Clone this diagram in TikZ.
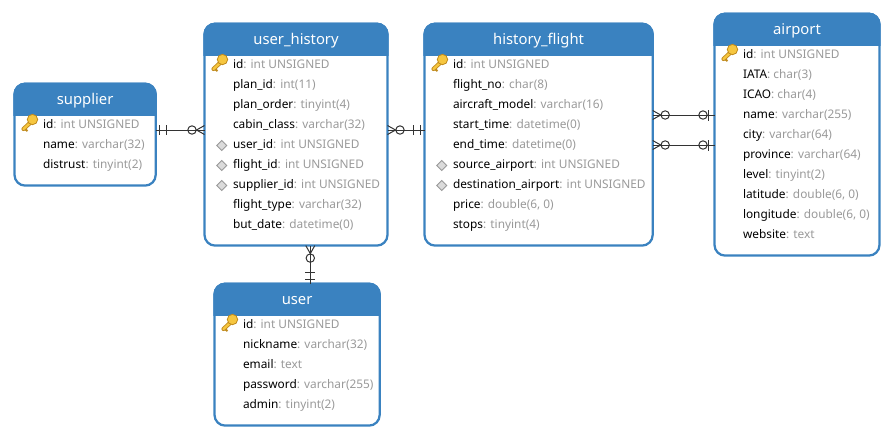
\documentclass[tikz,border=0pt]{standalone}
\usepackage{fontspec}
\setmainfont{Noto Sans}
\definecolor{headblue}{HTML}{3A82C0}
\definecolor{typegray}{HTML}{9A9A9A}
\definecolor{linkgray}{HTML}{333333}
\definecolor{keyfill}{HTML}{F6C63F}
\definecolor{keyedge}{HTML}{C08A1C}
\tikzset{
  tablebox/.style={draw=headblue,line width=1.7pt,fill=white,rounded corners=8pt,inner sep=0pt,outer sep=0pt},
  titletext/.style={text=white,font=\fontsize{11.1}{13}\selectfont,inner sep=0pt},
  rowtext/.style={anchor=base west,inner sep=0pt,outer sep=0pt,font=\fontsize{8.9}{11}\selectfont,text=black},
  link/.style={draw=linkgray,line width=0.75pt},
  pics/manyzero/.style={code={
    \draw[link] (0,-4.5)--(8,0)--(0,4.5);
    \draw[link] (12.5,0) circle[radius=4.2];}},
  pics/oneone/.style={code={
    \draw[link] (4,-5)--(4,5);
    \draw[link] (11,-5)--(11,5);}},
  pics/zeroone/.style={code={
    \draw[link] (5.7,-5.5)--(5.7,5.5);
    \draw[link] (11.5,0) circle[radius=4.2];}}
}
\newcommand{\iconkey}[2]{%
  \begin{scope}[shift={(#1-11.5,#2-2.5)}]
    \draw[keyedge,line width=3.1pt,line cap=round] (-1,1)--(-8,7.5);
    \draw[keyfill,line width=1.8pt,line cap=round] (-1,1)--(-8,7.5);
    \draw[keyedge,line width=1.5pt] (-6,8)--(-4,9.5);
    \draw[keyedge,line width=0.6pt,fill=keyfill] (1,-2) circle[radius=5.2];
  \end{scope}}
\newcommand{\iconfk}[2]{%
  \draw[fill=black!14,draw=black!40,line width=0.6pt] (#1-11.3-5,#2+1.5)--(#1-11.3,#2+1.5-5)--(#1-11.3+5,#2+1.5)--(#1-11.3,#2+1.5+5)--cycle;}
\newcommand{\iconno}[2]{}
\newcommand{\dbtable}[9]{% name, title, x0,y0,x1,y1, rows x, first row y, rows
  \node[tablebox,minimum width={(#5-#3)*0.75pt},minimum height={(#6-#4)*0.75pt}] (#1) at ({(#3+#5)/2},{(#4+#6)/2}) {};
  \draw[headblue,fill=headblue,line width=1.7pt] (#3,#4+31) [rounded corners=8pt] -- (#3,#4) -- (#5,#4) [sharp corners] -- (#5,#4+31) -- cycle;
  \node[titletext] (#1-title) at ({(#3+#5)/2},#4+17) {#2};
  \foreach \rkind/\rname/\rtype [count=\ri] in {#9}{
    \node[rowtext] (#1-r\ri) at (#7,{#8+20*(\ri-1)+4.3}) {\rname\textcolor{typegray}{: \rtype}};
    \pgfmathsetmacro{\iconY}{#8+20*(\ri-1)}
    \csname icon\rkind\endcsname{#7}{\iconY}
  }}
\begin{document}
\begin{tikzpicture}[x=0.75pt,y=-0.75pt]
\useasboundingbox (0,0) rectangle (894,440);
\dbtable{supplier}{supplier}{14.5}{83.7}{155.7}{185.6}{43}{124}{
  key/id/int UNSIGNED, no/name/varchar(32), no/distrust/tinyint(2)}
\dbtable{history}{user\_history}{204.5}{23.7}{387.5}{245.6}{233}{64}{
  key/id/int UNSIGNED, no/plan\_id/int(11), no/plan\_order/tinyint(4), no/cabin\_class/varchar(32),
  fk/user\_id/int UNSIGNED, fk/flight\_id/int UNSIGNED, fk/supplier\_id/int UNSIGNED,
  no/flight\_type/varchar(32), no/but\_date/datetime(0)}
\dbtable{flight}{history\_flight}{424.5}{23.7}{652.7}{245.6}{453}{64}{
  key/id/int UNSIGNED, no/flight\_no/char(8), no/aircraft\_model/varchar(16),
  no/start\_time/datetime(0), no/end\_time/datetime(0),
  fk/source\_airport/int UNSIGNED, fk/destination\_airport/int UNSIGNED,
  no/price/{double(6, 0)}, no/stops/tinyint(4)}
\dbtable{airport}{airport}{714.5}{13.7}{879.5}{255.6}{743}{54}{
  key/id/int UNSIGNED, no/IATA/char(3), no/ICAO/char(4), no/name/varchar(255),
  no/city/varchar(64), no/province/varchar(64), no/level/tinyint(2),
  no/latitude/{double(6, 0)}, no/longitude/{double(6, 0)}, no/website/text}
\dbtable{user}{user}{214.5}{283.7}{379.7}{425.6}{243}{324}{
  key/id/int UNSIGNED, no/nickname/varchar(32), no/email/text,
  no/password/varchar(255), no/admin/tinyint(2)}
% connectors
\draw[link] (supplier.east |- 0,130) -- (history.west |- 0,130);
\pic at (supplier.east |- 0,130) {oneone};
\pic[rotate=180] at (history.west |- 0,130) {manyzero};
\draw[link] (history.east |- 0,130) -- (flight.west |- 0,130);
\pic at (history.east |- 0,130) {manyzero};
\pic[rotate=180] at (flight.west |- 0,130) {oneone};
\draw[link] (flight.east |- 0,115) -- (airport.west |- 0,115);
\pic at (flight.east |- 0,115) {manyzero};
\pic[rotate=180] at (airport.west |- 0,115) {zeroone};
\draw[link] (flight.east |- 0,145) -- (airport.west |- 0,145);
\pic at (flight.east |- 0,145) {manyzero};
\pic[rotate=180] at (airport.west |- 0,145) {zeroone};
\draw[link] (310.3,0 |- history.south) -- (310.3,0 |- user.north);
\pic[rotate=-90] at (310.3,0 |- history.south) {manyzero};
\pic[rotate=90] at (310.3,0 |- user.north) {oneone};
\end{tikzpicture}
\end{document}
